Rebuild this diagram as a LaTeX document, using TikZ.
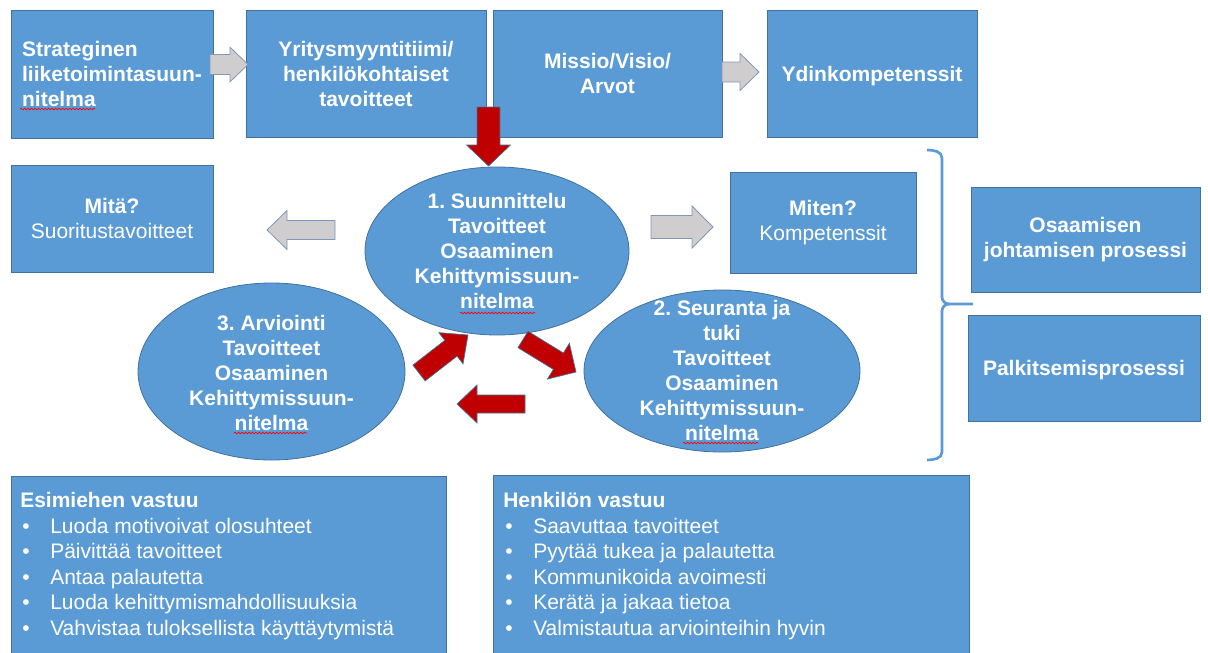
\documentclass[tikz,border=0pt]{standalone}
\usepackage{fontspec}
\setmainfont{Liberation Sans}
\frenchspacing
\usetikzlibrary{shapes.geometric,calc,decorations.pathmorphing}
\definecolor{boxblue}{HTML}{5B9BD5}
\definecolor{boxline}{HTML}{41719C}
\definecolor{arrgray}{HTML}{CFCDCD}
\definecolor{arrgrayline}{HTML}{7F98B8}
\definecolor{arrred}{HTML}{C00000}
\newcommand\blockarr[6]{%
  \coordinate (tmph) at ($(#3)!#6!(#2)$);
  \path[#1] ($(#2)!#4!90:(#3)$) -- ($(tmph)!#4!90:(#3)$) -- ($(tmph)!#5!90:(#3)$) -- (#3)
    -- ($(tmph)!#5!-90:(#3)$) -- ($(tmph)!#4!-90:(#3)$) -- ($(#2)!#4!-90:(#3)$) -- cycle;}
\newcommand\bulA{\hspace*{1.5pt}\makebox[21pt][l]{•}}
\begin{document}
\begin{tikzpicture}[x=0.75pt,y=-0.75pt,
  box/.style={draw=boxline, fill=boxblue, line width=0.6pt, inner sep=0pt, text=white,
    font=\bfseries\fontsize{15.75}{18.75}\selectfont, align=center},
  oval/.style={ellipse, draw=boxline, fill=boxblue, line width=0.6pt, inner sep=0pt},
  ovaltext/.style={text=white, inner sep=0pt, align=center,
    font=\bfseries\fontsize{15.75}{18.75}\selectfont},
  listtext/.style={text=white, inner sep=0pt, align=left,
    font=\fontsize{15.75}{19.1}\selectfont},
  grayarr/.style={fill=arrgray, draw=arrgrayline, line width=0.6pt},
  redarr/.style={fill=arrred, draw=boxline, line width=0.5pt},
  spell/.style={draw=red, line width=0.5pt, decorate,
    decoration={snake, amplitude=0.6pt, segment length=2.6pt}},
  brace/.style={draw=boxblue, line width=2pt}
]
\useasboundingbox (0,0) rectangle (1208,653);
\fill[white] (0,0) rectangle (1208,653);

% top row
\node[box, align=left, minimum width={202*0.75pt}, minimum height={128*0.75pt}] (strat) at (112,74)
  {Strateginen\\liiketoimintasuun-\\nitelma};
\node[box, minimum width={240*0.75pt}, minimum height={127*0.75pt}] (yritys) at (366,73.5)
  {Yritysmyyntitiimi/\\henkilökohtaiset\\tavoitteet};
\node[box, minimum width={229*0.75pt}, minimum height={127*0.75pt}] (missio) at (607.5,73.5)
  {Missio/Visio/\\Arvot};
\node[box, text depth=0pt, minimum width={210*0.75pt}, minimum height={127*0.75pt}] (ydin) at (872,73.5)
  {Ydinkompetenssit};

% middle boxes
\node[box, minimum width={202*0.75pt}, minimum height={107*0.75pt}] (mita) at (112,218.5)
  {Mitä?\\\mdseries Suoritustavoitteet};
\node[box, minimum width={186*0.75pt}, minimum height={101*0.75pt}] (miten) at (823,222.5)
  {Miten?\\\mdseries Kompetenssit};
\node[box, minimum width={229*0.75pt}, minimum height={105*0.75pt}] (osjoh) at (1085.5,239.5)
  {Osaamisen\\johtamisen prosessi};
\node[box, text depth=0pt, minimum width={232*0.75pt}, minimum height={106*0.75pt}] (palk) at (1084,368)
  {Palkitsemisprosessi};

% ellipses
\node[oval, minimum width={264*0.75pt}, minimum height={168*0.75pt}] (e1) at (497,251) {};
\node[ovaltext] (e1t) at (e1.center) {1. Suunnittelu\\Tavoitteet\\Osaaminen\\Kehittymissuun-\\nitelma};
\node[oval, minimum width={276*0.75pt}, minimum height={162*0.75pt}] (e2) at (722,371) {};
\node[ovaltext] (e2t) at (722,370) {2. Seuranta ja\\tuki\\Tavoitteet\\Osaaminen\\Kehittymissuun-\\nitelma};
\node[oval, minimum width={267*0.75pt}, minimum height={177*0.75pt}] (e3) at (271.5,371.5) {};
\node[ovaltext] (e3t) at (271.5,373) {3. Arviointi\\Tavoitteet\\Osaaminen\\Kehittymissuun-\\nitelma};

% spelling marks
\draw[spell] (20,109) -- (95,109);
\draw[spell] (460,313) -- (535,313);
\draw[spell] (234,433) -- (307,433);
\draw[spell] (683,443) -- (758,443);

% bottom boxes
\node[box, minimum width={435*0.75pt}, minimum height={186*0.75pt}] (esim) at (228.5,569) {};
\node[listtext, anchor=north west] (esimt) at (20,492.4)
  {\textbf{Esimiehen vastuu}\\
   \bulA Luoda motivoivat olosuhteet\\
   \bulA Päivittää tavoitteet\\
   \bulA Antaa palautetta\\
   \bulA Luoda kehittymismahdollisuuksia\\
   \bulA Vahvistaa tuloksellista käyttäytymistä};
\node[box, minimum width={476*0.75pt}, minimum height={187*0.75pt}] (henk) at (731,568.5) {};
\node[listtext, anchor=north west] (henkt) at (503,492.4)
  {\textbf{Henkilön vastuu}\\
   \bulA Saavuttaa tavoitteet\\
   \bulA Pyytää tukea ja palautetta\\
   \bulA Kommunikoida avoimesti\\
   \bulA Kerätä ja jakaa tietoa\\
   \bulA Valmistautua arviointeihin hyvin};

% gray arrows
\coordinate (g1s) at (210,64.5); \coordinate (g1e) at (248,64.5);
\blockarr{grayarr}{g1s}{g1e}{7.5pt}{13pt}{13.5pt}
\coordinate (g2s) at (722,72); \coordinate (g2e) at (759,72);
\blockarr{grayarr}{g2s}{g2e}{7.5pt}{13.9pt}{14.2pt}
\coordinate (g3s) at (335,230); \coordinate (g3e) at (267,230);
\blockarr{grayarr}{g3s}{g3e}{7.1pt}{14.6pt}{15pt}
\coordinate (g4s) at (651,227); \coordinate (g4e) at (713,227);
\blockarr{grayarr}{g4s}{g4e}{8.6pt}{15.75pt}{15.75pt}

% red arrows
\coordinate (r0s) at (488.5,107); \coordinate (r0e) at (488.5,166);
\blockarr{redarr}{r0s}{r0e}{8.6pt}{16.5pt}{15.75pt}
\coordinate (r1s) at (419,373); \coordinate (r1e) at (468,335);
\blockarr{redarr}{r1s}{r1e}{7.5pt}{14.8pt}{16.2pt}
\coordinate (r2s) at (523,339.5); \coordinate (r2e) at (576,372);
\blockarr{redarr}{r2s}{r2e}{7.2pt}{15.75pt}{15.5pt}
\coordinate (r3s) at (525,404); \coordinate (r3e) at (457,404);
\blockarr{redarr}{r3s}{r3e}{6.75pt}{14.25pt}{15pt}

% brace
\draw[brace] (927,150) to[out=0,in=90] (942,158) -- (942,297) to[out=-90,in=180] (949,304) -- (973,304);
\draw[brace] (949,304) to[out=180,in=90] (942,311) -- (942,452) to[out=-90,in=0] (927,460);
\end{tikzpicture}
\end{document}
